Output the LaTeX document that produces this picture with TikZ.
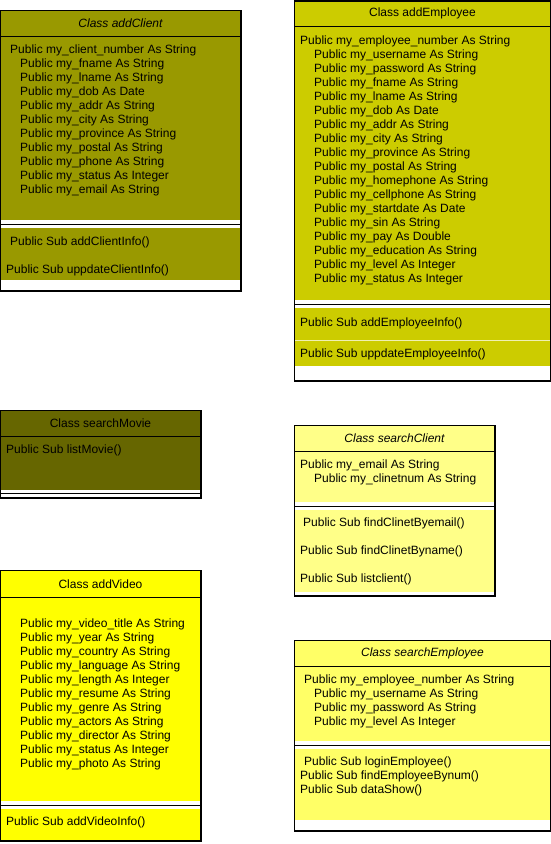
\documentclass[tikz,border=0pt]{standalone}
\usepackage{fontspec}
\setmainfont{Liberation Sans}
\usetikzlibrary{positioning}

\definecolor{olivedark}{HTML}{666600}
\definecolor{olivemid}{HTML}{999900}
\definecolor{olivelight}{HTML}{CCCC00}
\definecolor{yellowfull}{HTML}{FFFF00}
\definecolor{yellowpale}{HTML}{FFFF88}
\definecolor{yellowsoft}{HTML}{FFFF66}

\begin{document}
\begin{tikzpicture}[
            x=1pt, y=-1pt,
            font=\fontsize{12}{14}\selectfont,
            classbox/.style={draw=black, fill=white, line width=1pt, anchor=north west, inner sep=0pt},
            titlebar/.style={draw=black, line width=1pt, anchor=north west, inner sep=0pt, minimum height=26pt},
            section/.style={anchor=north west, inner sep=0pt},
            members/.style={anchor=base west, align=left, inner sep=0pt},
            sepline/.style={draw=black, line width=1pt}
        ]
        \useasboundingbox (0,0) rectangle (551,844);

        % addClient (members placed by the baseline of their last line)
        \node[classbox, minimum width=240pt, minimum height=280pt] (acbox) at (0,10) {};
        \node[section, fill=olivemid, minimum width=240pt, minimum height=184pt] (acattr) at (0,36) {};
        \node[section, fill=olivemid, minimum width=240pt, minimum height=52pt] (acmeth) at (0,228) {};
        \node[titlebar, fill=olivemid, minimum width=240pt] (actitle) at (0,10) {\itshape Class addClient};
        \draw[sepline] ([yshift=-4pt]acattr.south west) -- ([yshift=-4pt]acattr.south east);
        \node[members] (acvars) at (10,193) {Public my\_client\_number As String\\
            \hspace*{10pt}Public my\_fname As String\\
            \hspace*{10pt}Public my\_lname As String\\
            \hspace*{10pt}Public my\_dob As Date\\
            \hspace*{10pt}Public my\_addr As String\\
            \hspace*{10pt}Public my\_city As String\\
            \hspace*{10pt}Public my\_province As String\\
            \hspace*{10pt}Public my\_postal As String\\
            \hspace*{10pt}Public my\_phone As String\\
            \hspace*{10pt}Public my\_status As Integer\\
            \hspace*{10pt}Public my\_email As String};
        \node[members] (acadd) at (10,245) {Public Sub addClientInfo()};
        \node[members] (acupd) at (6,273) {Public Sub uppdateClientInfo()};
        \draw[line width=1pt] (acbox.north west) rectangle (acbox.south east);

        % addEmployee
        \node[classbox, minimum width=256pt, minimum height=379.5pt] (aebox) at (294,0.5) {};
        \node[section, fill=olivelight, minimum width=256pt, minimum height=274pt] (aeattr) at (294,26) {};
        \node[section, fill=olivelight, minimum width=256pt, minimum height=58pt] (aemeth) at (294,308) {};
        \node[titlebar, fill=olivelight, minimum width=256pt, minimum height=25.5pt] (aetitle) at (294,0.5) {Class addEmployee};
        \draw[sepline] ([yshift=-4pt]aeattr.south west) -- ([yshift=-4pt]aeattr.south east);
        \draw[white!70!olivelight, line width=1pt] ([yshift=-32pt]aemeth.north west) -- ([yshift=-32pt]aemeth.north east);
        \node[members] (aevars) at (300,282) {Public my\_employee\_number As String\\
            \hspace*{14pt}Public my\_username As String\\
            \hspace*{14pt}Public my\_password As String\\
            \hspace*{14pt}Public my\_fname As String\\
            \hspace*{14pt}Public my\_lname As String\\
            \hspace*{14pt}Public my\_dob As Date\\
            \hspace*{14pt}Public my\_addr As String\\
            \hspace*{14pt}Public my\_city As String\\
            \hspace*{14pt}Public my\_province As String\\
            \hspace*{14pt}Public my\_postal As String\\
            \hspace*{14pt}Public my\_homephone As String\\
            \hspace*{14pt}Public my\_cellphone As String\\
            \hspace*{14pt}Public my\_startdate As Date\\
            \hspace*{14pt}Public my\_sin As String\\
            \hspace*{14pt}Public my\_pay As Double\\
            \hspace*{14pt}Public my\_education As String\\
            \hspace*{14pt}Public my\_level As Integer\\
            \hspace*{14pt}Public my\_status As Integer};
        \node[members] (aeadd) at (300,326) {Public Sub addEmployeeInfo()};
        \node[members] (aeupd) at (300,357) {Public Sub uppdateEmployeeInfo()};
        \draw[line width=1pt] (aebox.north west) rectangle (aebox.south east);

        % searchMovie
        \node[classbox, minimum width=200pt, minimum height=87pt] (smbox) at (0,410) {};
        \node[section, fill=olivedark, minimum width=200pt, minimum height=54pt] (smmeth) at (0,436) {};
        \node[titlebar, fill=olivedark, minimum width=200pt] (smtitle) at (0,410) {Class searchMovie};
        \draw[sepline] ([yshift=-3pt]smmeth.south west) -- ([yshift=-3pt]smmeth.south east);
        \node[members] (smlist) at (6,453) {Public Sub listMovie()};
        \draw[line width=1pt] (smbox.north west) rectangle (smbox.south east);

        % searchClient
        \node[classbox, minimum width=200pt, minimum height=170pt] (scbox) at (294,425) {};
        \node[section, fill=yellowpale, minimum width=200pt, minimum height=51pt] (scattr) at (294,451) {};
        \node[section, fill=yellowpale, minimum width=200pt, minimum height=82pt] (scmeth) at (294,510) {};
        \node[titlebar, fill=yellowpale, minimum width=200pt] (sctitle) at (294,425) {\itshape Class searchClient};
        \draw[sepline] ([yshift=-4pt]scattr.south west) -- ([yshift=-4pt]scattr.south east);
        \node[members] (scvars) at (300,482) {Public my\_email As String\\
            \hspace*{14pt}Public my\_clinetnum As String};
        \node[members] (scmail) at (303,526) {Public Sub findClinetByemail()};
        \node[members] (scname) at (300,554) {Public Sub findClinetByname()};
        \node[members] (sclist) at (300,582) {Public Sub listclient()};
        \draw[line width=1pt] (scbox.north west) rectangle (scbox.south east);

        % addVideo
        \node[classbox, minimum width=200pt, minimum height=270pt] (avbox) at (0,570) {};
        \node[section, fill=yellowfull, minimum width=200pt, minimum height=204pt] (avattr) at (0,597) {};
        \node[section, fill=yellowfull, minimum width=200pt, minimum height=31pt] (avmeth) at (0,809) {};
        \node[titlebar, fill=yellowfull, minimum width=200pt, minimum height=27pt] (avtitle) at (0,570) {Class addVideo};
        \draw[sepline] ([yshift=-4pt]avattr.south west) -- ([yshift=-4pt]avattr.south east);
        \node[members] (avvars) at (20,767) {Public my\_video\_title As String\\
            Public my\_year As String\\
            Public my\_country As String\\
            Public my\_language As String\\
            Public my\_length As Integer\\
            Public my\_resume As String\\
            Public my\_genre As String\\
            Public my\_actors As String\\
            Public my\_director As String\\
            Public my\_status As Integer\\
            Public my\_photo As String};
        \node[members] (avadd) at (6,825) {Public Sub addVideoInfo()};
        \draw[line width=1pt] (avbox.north west) rectangle (avbox.south east);

        % searchEmployee
        \node[classbox, minimum width=256pt, minimum height=190pt] (sebox) at (294,640) {};
        \node[section, fill=yellowsoft, minimum width=256pt, minimum height=75pt] (seattr) at (294,666) {};
        \node[section, fill=yellowsoft, minimum width=256pt, minimum height=71pt] (semeth) at (294,749) {};
        \node[titlebar, fill=yellowsoft, minimum width=256pt] (setitle) at (294,640) {\itshape Class searchEmployee};
        \draw[sepline] ([yshift=-4pt]seattr.south west) -- ([yshift=-4pt]seattr.south east);
        \node[members] (sevars) at (304,725) {Public my\_employee\_number As String\\
            \hspace*{10pt}Public my\_username As String\\
            \hspace*{10pt}Public my\_password As String\\
            \hspace*{10pt}Public my\_level As Integer};
        \node[members] (selogin) at (304,765) {Public Sub loginEmployee()};
        \node[members] (seops) at (300,793) {Public Sub findEmployeeBynum()\\
            Public Sub dataShow()};
        \draw[line width=1pt] (sebox.north west) rectangle (sebox.south east);

    \end{tikzpicture}
\end{document}
